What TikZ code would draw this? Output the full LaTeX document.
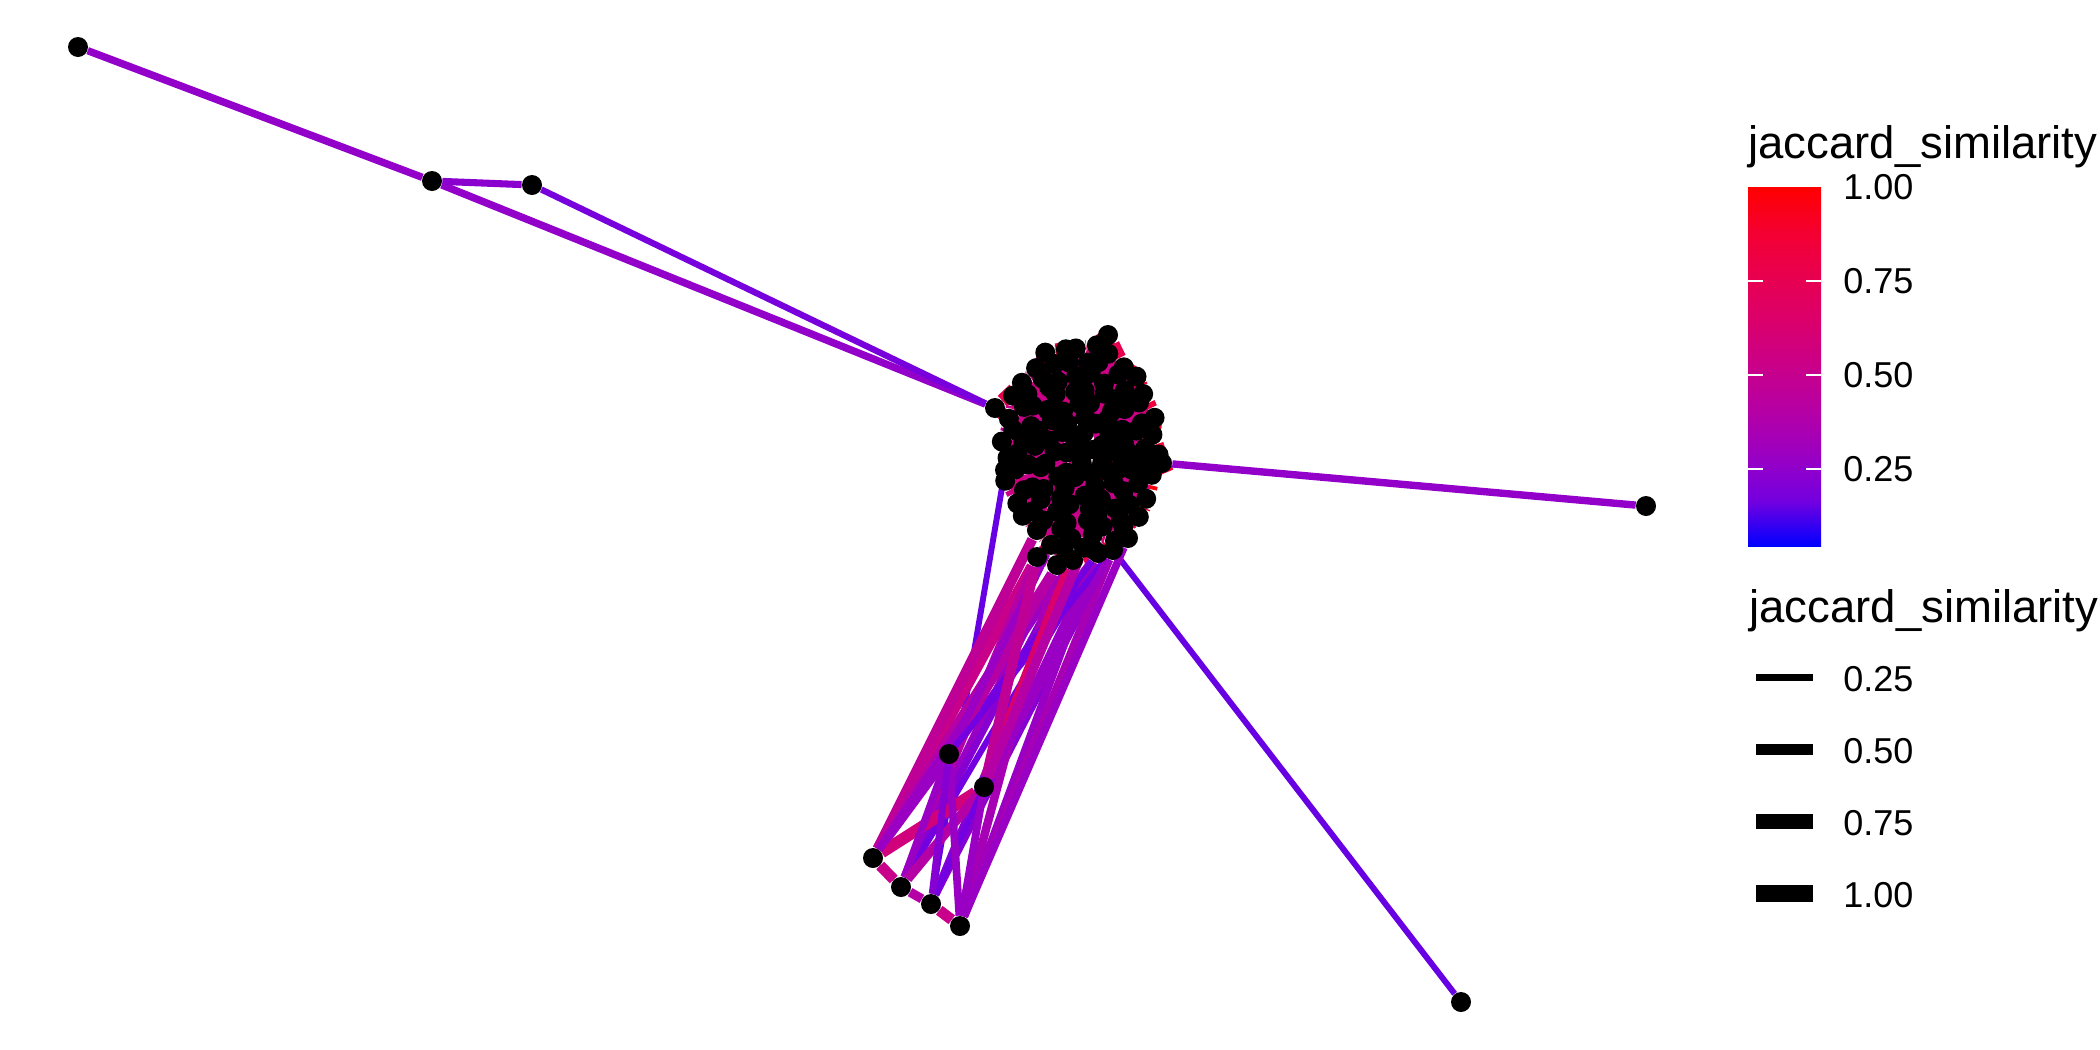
\documentclass[tikz,border=0pt]{standalone}
\usepackage{fontspec}
\setmainfont{Liberation Sans}
\pgfdeclarelayer{bg}
\pgfsetlayers{bg,main}
\definecolor{jt0}{RGB}{0,0,255}
\definecolor{jt1}{RGB}{115,0,224}
\definecolor{jt2}{RGB}{154,0,195}
\definecolor{jt3}{RGB}{181,0,165}
\definecolor{jt4}{RGB}{201,0,137}
\definecolor{jt5}{RGB}{218,0,108}
\definecolor{jt6}{RGB}{232,0,80}
\definecolor{jt7}{RGB}{244,0,49}
\definecolor{jt8}{RGB}{255,0,0}
\pgfdeclareverticalshading{jacbar}{100bp}{color(0bp)=(jt0); color(25bp)=(jt0); color(31.25bp)=(jt1); color(37.5bp)=(jt2); color(43.75bp)=(jt3); color(50bp)=(jt4); color(56.25bp)=(jt5); color(62.5bp)=(jt6); color(68.75bp)=(jt7); color(75bp)=(jt8); color(100bp)=(jt8)}
\newcommand\jedge[3]{%
  \pgfmathtruncatemacro\jaK{min(floor(#1),7)}%
  \pgfmathtruncatemacro\jaKK{\jaK+1}%
  \pgfmathsetmacro\jaP{100*((#1)-\jaK)}%
  \pgfmathsetmacro\jaW{(3.9+13.4*(0.045+0.955*(#1)/8))*0.5}%
  \colorlet{jtmp}{jt\jaKK!\jaP!jt\jaK}%
  \draw[draw=jtmp,line width=\jaW pt] (#2) -- (#3);}
\begin{document}
\begin{tikzpicture}[x=0.5pt,y=-0.5pt,
  dot/.style={circle,fill=black,inner sep=0pt,minimum size=10pt},
  lab/.style={anchor=west,inner sep=0pt,font=\fontsize{18}{20}\selectfont},
  ttl/.style={anchor=base west,inner sep=0pt,font=\fontsize{22.75}{26}\selectfont},
  keyline/.style={fill=black,inner sep=0pt,minimum width=28.5pt},
  tickw/.style={white,line width=0.8pt}]
\useasboundingbox (0,0) rectangle (2100,1050);

% outer nodes
\node[dot] (A) at (78,47) {};
\node[dot] (B) at (432,181) {};
\node[dot] (C) at (532,185) {};
\node[dot] (D) at (1646,506) {};
\node[dot] (E) at (1461,1002) {};
\node[dot] (F) at (949,754) {};
\node[dot] (G) at (984,787) {};
\node[dot] (H) at (873,858) {};
\node[dot] (I) at (901,887) {};
\node[dot] (J) at (931,904) {};
\node[dot] (K) at (960,926) {};

% cluster rings: ring/count/angle offset/jitter
\foreach \rg/\f/\n/\ao in {o/1.0/30/5, p/0.86/26/12, q/0.72/22/3, u/0.58/18/20, v/0.44/14/9, w/0.30/10/27, s/0.16/5/14}{
  \foreach \i in {1,...,\n}{
    \pgfmathsetmacro\xx{1080+\f*76*cos(360*\i/\n+\ao)+3*sin(157*\i+40*\f)}
    \pgfmathsetmacro\yy{448+\f*102*sin(360*\i/\n+\ao)+3*cos(113*\i+70*\f)}
    \node[dot] (\rg\i) at (\xx,\yy) {};}}
\node[dot] (z) at (1082,450) {};
\node[dot] (L) at (995,408) {};
\node[dot] (T) at (1108,335) {};
\node[dot] (R) at (1162,463) {};
\node[dot] (W) at (1005,470) {};
\node[dot] (b1) at (1037,557) {};
\node[dot] (b2) at (1057,565) {};
\node[dot] (b3) at (1073,560) {};
\node[dot] (b4) at (1098,553) {};
\node[dot] (b5) at (1113,550) {};
\node[dot] (b6) at (1128,538) {};

\begin{pgfonlayer}{bg}
% cluster internal edges
\foreach \i in {1,...,30}{
  \pgfmathtruncatemacro\j{mod(\i,30)+1}
  \pgfmathsetmacro\lv{5.6+1.8*cos(360*\i/30+5)+0.5*sin(90*\i)}
  \jedge{\lv}{o\i}{o\j}
  \pgfmathtruncatemacro\k{mod(round(\i*26/30),26)+1}
  \jedge{4.5}{o\i}{p\k}
  \pgfmathtruncatemacro\m{mod(\i+11,30)+1}
  \jedge{4}{o\i}{o\m}}
\foreach \i in {1,...,26}{
  \pgfmathtruncatemacro\k{mod(round(\i*22/26),22)+1}
  \jedge{4.5}{p\i}{q\k}}
\foreach \i in {1,...,22}{
  \pgfmathtruncatemacro\k{mod(round(\i*18/22),18)+1}
  \jedge{4}{q\i}{u\k}}
\foreach \i in {1,...,18}{
  \pgfmathtruncatemacro\k{mod(round(\i*14/18),14)+1}
  \jedge{4.5}{u\i}{v\k}}
\foreach \i in {1,...,14}{
  \pgfmathtruncatemacro\k{mod(round(\i*10/14),10)+1}
  \jedge{4}{v\i}{w\k}}
\foreach \i in {1,...,10}{
  \pgfmathtruncatemacro\k{mod(\i,5)+1}
  \jedge{4.5}{w\i}{s\k}}
\foreach \i in {1,...,5}{\jedge{4}{s\i}{z}}
\jedge{5}{L}{o16}\jedge{5}{L}{o17}\jedge{6}{L}{o18}
\jedge{7}{T}{o23}\jedge{7}{T}{o24}\jedge{6}{T}{o25}
\jedge{7}{R}{o29}\jedge{7}{R}{o30}\jedge{6.5}{R}{o1}
\jedge{4}{W}{o13}\jedge{4}{W}{o14}
\jedge{5}{b1}{o9}\jedge{5}{b2}{o8}\jedge{5}{b3}{o8}\jedge{6}{b4}{o7}
\jedge{6}{b5}{o6}\jedge{7}{b6}{o5}\jedge{5}{b1}{b2}\jedge{6}{b3}{b4}
% long edges
\jedge{1.8}{A}{B}
\jedge{1.8}{B}{L}
\jedge{1.6}{B}{C}
\jedge{1.1}{C}{L}
\jedge{1.8}{R}{D}
\jedge{0.9}{E}{b5}
\jedge{0.9}{J}{W}
% bundle to lower nodes
\jedge{4}{H}{b1}
\jedge{3.5}{H}{o10}
\jedge{3}{H}{b2}
\jedge{2}{H}{b3}
\jedge{2.5}{H}{b4}
\jedge{3}{I}{b1}
\jedge{2}{I}{b2}
\jedge{1.5}{I}{b3}
\jedge{1}{I}{b4}
\jedge{1.5}{J}{b3}
\jedge{2}{J}{b4}
\jedge{1.5}{J}{b5}
\jedge{2.5}{K}{b2}
\jedge{2}{K}{b4}
\jedge{2.5}{K}{b5}
\jedge{2}{K}{b6}
\jedge{1}{F}{b4}
\jedge{3}{F}{b2}
\jedge{2}{F}{o9}
\jedge{1}{F}{b5}
\jedge{5}{G}{b3}
\jedge{2}{G}{b5}
\jedge{3.5}{G}{b1}
\jedge{3}{G}{o7}
% lower internal
\jedge{4}{H}{I}
\jedge{3}{I}{J}
\jedge{4}{J}{K}
\jedge{4.5}{H}{G}
\jedge{2}{H}{F}
\jedge{2}{I}{F}
\jedge{3}{I}{G}
\jedge{1}{J}{G}
\jedge{2}{K}{F}
\jedge{1.5}{J}{F}
\jedge{2}{K}{G}
\end{pgfonlayer}

% legend: colour bar
\node[ttl] (t1) at (1748,158) {jaccard\_similarity};
\shade[shading=jacbar] (1748,187) rectangle (1821,546);
\foreach \y in {281,375,469}{
  \draw[tickw] (1748,\y) -- (1763,\y) (1806,\y) -- (1821,\y);}
\node[lab] (c100) at (1843,187) {1.00};
\node[lab] (c075) at (1843,281) {0.75};
\node[lab] (c050) at (1843,375) {0.50};
\node[lab] (c025) at (1843,469) {0.25};

% legend: widths
\node[ttl] (t2) at (1749,622) {jaccard\_similarity};
\node[keyline,minimum height=3.65pt] (k1) at (1784.5,677.5) {};
\node[keyline,minimum height=5.35pt] (k2) at (1784.5,749.5) {};
\node[keyline,minimum height=7.15pt] (k3) at (1784.5,821.5) {};
\node[keyline,minimum height=8.65pt] (k4) at (1784.5,893.5) {};
\node[lab] (w025) at (1843,679) {0.25};
\node[lab] (w050) at (1843,751) {0.50};
\node[lab] (w075) at (1843,823) {0.75};
\node[lab] (w100) at (1843,895) {1.00};
\end{tikzpicture}
\end{document}
